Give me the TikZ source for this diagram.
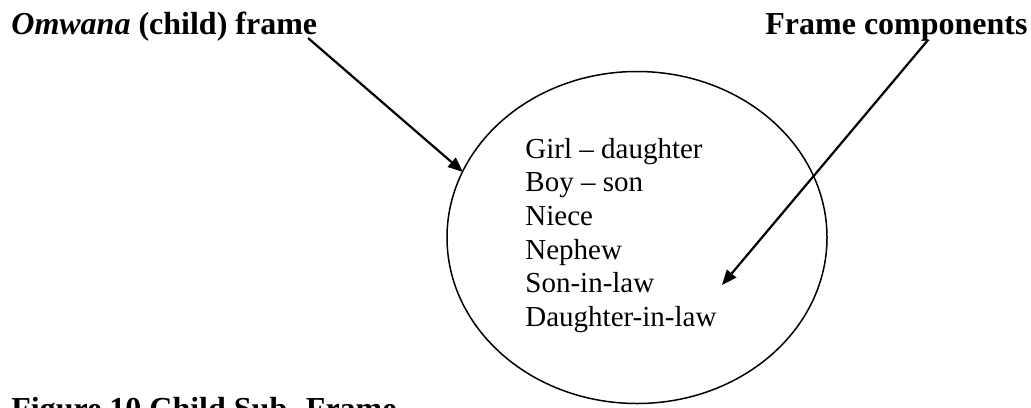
\documentclass[tikz,border=0pt]{standalone}
\usepackage{fontspec}
\setmainfont{Liberation Serif}
\usetikzlibrary{shapes.geometric,arrows.meta}
\begin{document}
\begin{tikzpicture}[x=0.5pt,y=-0.5pt,
  txt/.style={anchor=base west,inner sep=0pt,font=\fontsize{14.5}{16.85}\selectfont},
  head/.style={txt,font=\fontsize{16}{18.5}\selectfont\bfseries},
  pointer/.style={-{Triangle[length=7.5pt,width=6pt]},line width=1.1pt},
  frame/.style={draw,ellipse,line width=0.75pt,inner sep=0pt,minimum width=190pt,minimum height=166pt}]
\useasboundingbox (0,0) rectangle (1031,407);
\clip (0,0) rectangle (1031,407);

% headings
\node[head] (t1) at (11,34) {\textit{Omwana} (child) frame};
\node[head] (t2) at (765,34) {Frame components};

% the frame
\node[frame] (ell) at (637,237.5) {};

% components listed inside the frame
\foreach \i/\s in {1/Girl -- daughter,2/Boy -- son,3/Niece,4/Nephew,5/Son-in-law,6/Daughter-in-law}
  \node[txt] (l\i) at (525,{158+(\i-1)*33.7}) {\s};

% caption
\node[head] (cap) at (11,419) {Figure 10 Child Sub- Frame};

% pointers
\coordinate (s1) at (308,38);
\coordinate (e1) at (463,172);
\coordinate (s2) at (928,40);
\coordinate (e2) at (722,285);
\draw[pointer] (s1) -- (e1);
\draw[pointer] (s2) -- (e2);
\end{tikzpicture}
\end{document}
